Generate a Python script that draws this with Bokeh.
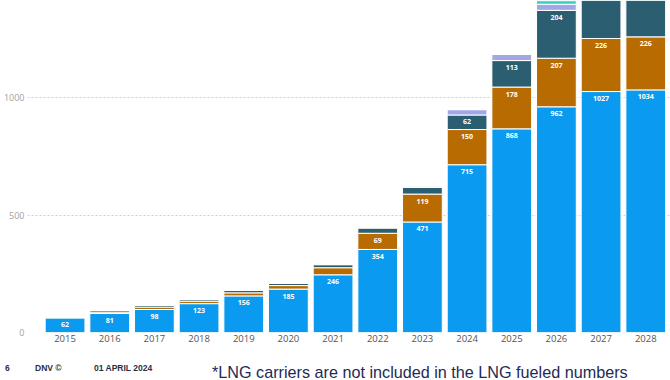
from bokeh.plotting import figure
from bokeh.models import ColumnDataSource, FixedTicker, Range1d, Div
from bokeh.layouts import column
from bokeh.embed import file_html
from bokeh.resources import INLINE
from bokeh.core.properties import value

# ---- data ----
years = list(range(2015, 2029))
tick_values = [0, 500, 1000]
series_names = ["seg_blue", "seg_orange", "seg_teal", "seg_lavender", "seg_cyan"]
seg_blue = [62, 81, 98, 123, 156, 185, 246, 354, 471, 715, 868, 962, 1027, 1034]
seg_orange = [2, 6, 10, 10, 13, 15, 30, 69, 119, 150, 178, 207, 226, 226]
seg_teal = [3, 7, 7, 7, 10, 10, 13, 22, 28, 62, 113, 204, 240, 260]
seg_lavender = [0, 0, 1, 1, 1, 1, 2, 4, 6, 23, 27, 26, 30, 30]
seg_cyan = [0, 0, 0, 0, 0, 0, 0, 0, 0, 0, 0, 15, 15, 15]
colors = ["#0a9bf0", "#b86b00", "#2b5e70", "#a3a6e6", "#3ccdc2"]
label_min = 50
y_max = 1415

footer_texts = ["6", "DNV ©", "01 APRIL 2024"]
note_text = "*LNG carriers are not included in the LNG fueled numbers"

data = dict(x=years, seg_blue=seg_blue, seg_orange=seg_orange, seg_teal=seg_teal,
            seg_lavender=seg_lavender, seg_cyan=seg_cyan)
src = ColumnDataSource(data)

p = figure(width=670, height=350, output_backend="svg", toolbar_location=None,
           x_range=Range1d(2014.159, 2028.554), y_range=Range1d(0, y_max),
           min_border_left=0, min_border_right=0, min_border_top=0, min_border_bottom=18)
p.outline_line_color = None
p.background_fill_color = "white"

p.vbar_stack(series_names, x="x", width=0.89, color=colors, source=src,
             line_color="white", line_width=1)

# value labels near the top of each big enough segment
lx, ly, lt = [], [], []
cum = [0] * len(years)
for name in series_names[:3]:
    vals = data[name]
    for i, v in enumerate(vals):
        top = cum[i] + v
        if v >= label_min and top < y_max:
            lx.append(years[i]); ly.append(top); lt.append(str(v))
        cum[i] = top
lsrc = ColumnDataSource(dict(x=lx, y=ly, t=lt))
p.text(x="x", y="y", text="t", source=lsrc, text_color="white", text_font=value("Open Sans"),
       text_font_size="7px", text_font_style="bold", text_align="center",
       text_baseline="middle", y_offset=7)

# axes
p.xaxis.ticker = FixedTicker(ticks=years)
p.xaxis.axis_line_color = None
p.xaxis.major_tick_line_color = None
p.xaxis.minor_tick_line_color = None
p.xaxis.major_tick_out = 0
p.xaxis.minor_tick_out = 0
p.xaxis.major_label_text_font = "Open Sans"
p.xaxis.major_label_text_font_size = "9.5px"
p.xaxis.major_label_text_color = "#555555"
p.xaxis.major_label_standoff = 2

p.yaxis.ticker = FixedTicker(ticks=tick_values)
p.yaxis.axis_line_color = None
p.yaxis.major_tick_line_color = None
p.yaxis.minor_tick_line_color = None
p.yaxis.major_tick_out = 0
p.yaxis.minor_tick_out = 0
p.yaxis.major_label_text_font = "Open Sans"
p.yaxis.major_label_text_font_size = "9px"
p.yaxis.major_label_text_color = "#a0a0a0"
p.yaxis.major_label_standoff = 3

p.xgrid.visible = False
p.ygrid.grid_line_color = "#cfcfcf"
p.ygrid.grid_line_dash = "2 2"
p.ygrid.grid_line_width = 1

# slide footer, as real text below the chart
small = ("position:absolute;top:14px;font-family:'Liberation Sans';font-size:8.5px;"
         "font-weight:bold;line-height:1;color:#2a2f45;white-space:nowrap;")
big = ("position:absolute;left:212px;top:14px;font-family:'Liberation Sans';font-size:16.2px;"
       "line-height:1;color:#1f2a55;white-space:nowrap;")
lefts = [5, 35, 94]
html = '<div style="position:relative;width:670px;height:30px;">'
for lft, t in zip(lefts, footer_texts):
    html += f'<span style="{small}left:{lft}px;">{t}</span>'
html += f'<span style="{big}">{note_text}</span></div>'
footer = Div(text=html, width=670, height=30, margin=0)

layout = column(p, footer, spacing=0)
open("out.html", "w").write(file_html(layout, INLINE))
